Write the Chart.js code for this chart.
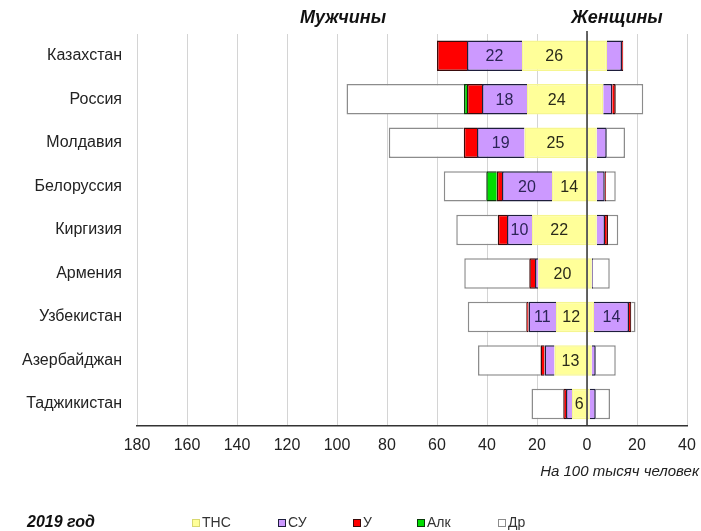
<!DOCTYPE html>
<html>
<head>
<meta charset="utf-8">
<script src="https://cdn.jsdelivr.net/npm/chart.js@4.4.1/dist/chart.umd.min.js"></script>
<style>
  html, body { margin: 0; padding: 0; background: #fff; }
</style>
</head>
<body>
<canvas id="mortChart" width="701" height="531"></canvas>
<script>
// страны и причины
var countries = ['Казахстан', 'Россия', 'Молдавия', 'Белоруссия', 'Киргизия', 'Армения', 'Узбекистан', 'Азербайджан', 'Таджикистан'];
var causes = ['ТНС', 'СУ', 'У', 'Алк', 'Др'];

// мужчины (на 100 тысяч)
var menTNS = [26, 24, 25, 14, 22, 19.5, 12.4, 13, 6];
var menSU  = [22, 18, 19, 20, 10, 1.3, 11, 4, 2.4];
var menU   = [12, 6, 5.3, 2.1, 3.7, 2.3, 0.9, 1.6, 1.1];
var menAlk = [null, 1.2, null, 4.2, null, null, null, null, null];
var menDr  = [null, 47, 30, 17, 16.6, 26, 23.4, 25, 12.7];

// женщины
var womenTNS = [8, 6.5, 3.9, 3.9, 3.9, 1.9, 2.8, 1.9, 1.1];
var womenSU  = [6, 3.6, 4, 3.2, 3.3, 0.5, 14, 1.6, 2.4];
var womenU   = [0.5, 1.4, null, 0.5, 1.2, null, 0.9, null, null];
var womenAlk = [null, null, null, null, null, null, null, null, null];
var womenDr  = [null, 11, 7.3, 3.9, 4.1, 6.7, 1.7, 8, 5.7];

var xMin = -180, xMax = 40, xStep = 20;

var FONT = "'Liberation Sans', Arial, sans-serif";
var fills   = ['#FFFF99', '#CC99FF', '#FF0000', '#00DD00', '#FFFFFF'];
var borders = ['#F6F690', '#1E1E3C', '#3A0A0A', '#0A3A0A', '#8C8C8C'];

function neg(arr) {
  return arr.map(function(v) { return v == null ? null : -v; });
}

var menSets = [menTNS, menSU, menU, menAlk, menDr];
var womenSets = [womenTNS, womenSU, womenU, womenAlk, womenDr];

var datasets = [];
menSets.forEach(function(arr, i) {
  datasets.push({
    label: causes[i],
    data: neg(arr),
    backgroundColor: fills[i],
    borderColor: borders[i],
    borderWidth: 1.5,
    showLabel: i === 0 ? function(v) { return true; } : (i === 1 ? function(v) { return v >= 10; } : null)
  });
});
womenSets.forEach(function(arr, i) {
  datasets.push({
    label: causes[i] + ' ж',
    data: arr,
    backgroundColor: fills[i],
    borderColor: borders[i],
    borderWidth: 1.5,
    showLabel: i === 1 ? function(v) { return v >= 10; } : null
  });
});

var extras = {
  id: 'extras',
  afterDatasetsDraw: function(chart) {
    var ctx = chart.ctx;
    var area = chart.chartArea;
    // подписи на сегментах
    ctx.save();
    ctx.font = '16px ' + FONT;
    ctx.textAlign = 'center';
    ctx.textBaseline = 'middle';
    chart.data.datasets.forEach(function(ds, i) {
      if (!ds.showLabel) return;
      var meta = chart.getDatasetMeta(i);
      meta.data.forEach(function(bar, j) {
        var v = ds.data[j];
        if (v == null) return;
        v = Math.abs(v);
        if (!ds.showLabel(v)) return;
        ctx.fillStyle = i % 5 === 0 ? '#2a2a1a' : '#2c2456';
        ctx.fillText(Math.round(v), (bar.x + bar.base) / 2, bar.y + 1);
      });
    });
    // нулевая линия
    var x0 = chart.scales.x.getPixelForValue(0);
    ctx.strokeStyle = '#333';
    ctx.lineWidth = 1.5;
    ctx.beginPath();
    ctx.moveTo(x0, area.top - 3);
    ctx.lineTo(x0, area.bottom);
    ctx.stroke();
    ctx.restore();
  },
  afterDraw: function(chart) {
    var ctx = chart.ctx;
    ctx.save();
    ctx.fillStyle = '#111';
    ctx.textBaseline = 'middle';
    ctx.textAlign = 'center';
    ctx.font = 'italic bold 18px ' + FONT;
    ctx.fillText('Мужчины', 343, 18);
    ctx.fillText('Женщины', 617, 18);

    ctx.textAlign = 'right';
    ctx.font = 'italic 15px ' + FONT;
    ctx.fillStyle = '#222';
    ctx.fillText('На 100 тысяч человек', 699, 472);

    ctx.textAlign = 'left';
    ctx.font = 'italic bold 16px ' + FONT;
    ctx.fillStyle = '#111';
    ctx.fillText('2019 год', 27, 523);

    // легенда
    var legendX = [192, 278, 353, 417, 498];
    ctx.font = '14px ' + FONT;
    for (var i = 0; i < 5; i++) {
      var ds = chart.data.datasets[i];
      ctx.fillStyle = ds.backgroundColor;
      ctx.fillRect(legendX[i], 519, 8, 8);
      ctx.strokeStyle = i === 0 ? '#D8D870' : ds.borderColor;
      ctx.lineWidth = 1;
      ctx.strokeRect(legendX[i] + 0.5, 519.5, 7, 7);
      ctx.fillStyle = '#333';
      ctx.fillText(causes[i], legendX[i] + 10, 523);
    }
    ctx.restore();
  }
};

new Chart(document.getElementById('mortChart'), {
  type: 'bar',
  data: {
    labels: countries,
    datasets: datasets
  },
  options: {
    indexAxis: 'y',
    responsive: false,
    animation: false,
    categoryPercentage: 1,
    barPercentage: 0.7,
    layout: {
      padding: { left: 15, right: 14, top: 34, bottom: 66 }
    },
    plugins: {
      legend: { display: false },
      tooltip: { enabled: false }
    },
    scales: {
      x: {
        stacked: true,
        min: xMin,
        max: xMax,
        afterFit: function(scale) { scale.paddingRight = 0; },
        ticks: {
          stepSize: xStep,
          callback: function(v) { return Math.abs(v); },
          font: { family: FONT, size: 16 },
          color: '#222',
          padding: 10,
          maxRotation: 0
        },
        grid: { color: '#d4d4d4', drawTicks: false },
        border: { color: '#333', width: 1.5 }
      },
      y: {
        stacked: true,
        grid: { display: false },
        border: { display: false },
        ticks: {
          font: { family: FONT, size: 16 },
          color: '#222',
          padding: 7
        }
      }
    }
  },
  plugins: [extras]
});
</script>
</body>
</html>
